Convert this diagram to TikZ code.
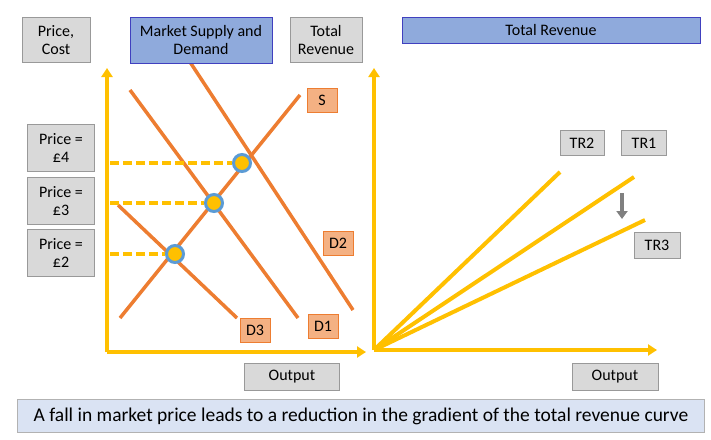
\documentclass[tikz,border=0pt]{standalone}
\usepackage{fontspec}
\setmainfont{Carlito}
\usetikzlibrary{arrows.meta}
\definecolor{axisyellow}{HTML}{FFC000}
\definecolor{curveorange}{HTML}{ED7D31}
\definecolor{labelorange}{HTML}{F4B183}
\definecolor{boxgray}{HTML}{D9D9D9}
\definecolor{boxblue}{HTML}{8FAADC}
\definecolor{capblue}{HTML}{DAE3F3}
\definecolor{dotblue}{HTML}{5B9BD5}
\begin{document}
\begin{tikzpicture}
        [
            x=1pt, y=-1pt,
            graybox/.style={rectangle, draw=gray!80, fill=boxgray, align=center, font=\fontsize{16}{18}\selectfont, inner sep=1pt},
            bluebox/.style={rectangle, draw=blue!50!gray, fill=boxblue, align=center, font=\fontsize{16}{18}\selectfont, inner sep=1pt},
            curvelabel/.style={rectangle, draw=curveorange, fill=labelorange, font=\fontsize{16}{18}\selectfont, minimum width=30pt, minimum height=24pt, inner sep=1pt},
            axis/.style={axisyellow, line width=4pt, -{Triangle[length=9pt,width=11pt]}},
            curve/.style={curveorange, line width=3.5pt},
            level/.style={axisyellow, line width=3.5pt, dash pattern=on 9pt off 4pt},
            revenue/.style={axisyellow, line width=4pt},
            point/.style={circle, draw=dotblue, line width=3pt, fill=axisyellow, minimum size=17pt, inner sep=0pt}
        ]
        \useasboundingbox (0,0) rectangle (711,439);
        %axes
        \coordinate (origin_l) at (107,352);
        \coordinate (origin_r) at (374,350);
        \draw[axis] (origin_l) -- (107,68);
        \draw[axis] (origin_l) -- (366,352);
        \draw[axis] (origin_r) -- (374,68);
        \draw[axis] (origin_r) -- (657,350);
        %curves
        \draw[curve] (120,318) -- (300,95);
        \draw[curve] (190,62) -- (353,310);
        \draw[curve] (130,90) -- (298,318);
        \draw[curve] (118,205) -- (237,318);
        %boxes
        \node[graybox, minimum width=68pt, minimum height=45pt] at (56,40)   (price_cost)   {Price,\\Cost};
        \node[bluebox, minimum width=142pt, minimum height=46pt] at (201,40) (supply_demand) {Market Supply and\\Demand};
        \node[graybox, minimum width=72pt, minimum height=45pt] at (326,40)  (total_rev)    {Total\\Revenue};
        \node[bluebox, minimum width=298pt, minimum height=26pt] at (551,30) (tr_title)     {Total Revenue};
        \node[graybox, minimum width=67pt, minimum height=47pt] at (61,148)  (price4)       {Price =\\£4};
        \node[graybox, minimum width=67pt, minimum height=47pt] at (61,201)  (price3)       {Price =\\£3};
        \node[graybox, minimum width=67pt, minimum height=47pt] at (61,253)  (price2)       {Price =\\£2};
        \node[graybox, minimum width=95pt, minimum height=27pt] at (292,377) (output_l)     {Output};
        \node[graybox, minimum width=86pt, minimum height=27pt] at (615,377) (output_r)     {Output};
        \node[graybox, minimum width=44pt, minimum height=25pt] at (582,143) (tr2)          {TR2};
        \node[graybox, minimum width=45pt, minimum height=25pt] at (644,143) (tr1)          {TR1};
        \node[graybox, minimum width=46pt, minimum height=26pt] at (657,245) (tr3)          {TR3};
        \node[rectangle, draw=gray!60, fill=capblue, minimum width=687pt, minimum height=33pt, font=\fontsize{19.5}{22}\selectfont] at (361,416) (caption) {A fall in market price leads to a reduction in the gradient of the total revenue curve};
        \node[curvelabel] at (322,100) (s_label)  {S};
        \node[curvelabel] at (338,243) (d2_label) {D2};
        \node[curvelabel] at (323,326) (d1_label) {D1};
        \node[curvelabel] at (255,330) (d3_label) {D3};
        %equilibria
        \node[point] at (242,163) (eq4) {};
        \node[point] at (214,203) (eq3) {};
        \node[point] at (175,254) (eq2) {};
        \draw[level] (110,163) -- (eq4.west);
        \draw[level] (110,203) -- (eq3.west);
        \draw[level] (110,254) -- (eq2.west);
        %revenue lines
        \draw[revenue] (origin_r) -- (560,172);
        \draw[revenue] (origin_r) -- (634,177);
        \draw[revenue] (origin_r) -- (645,220);
        \draw[gray, line width=3.5pt, -{Triangle[length=8pt,width=11pt]}] (622,193) -- (622,219);
    \end{tikzpicture}
\end{document}
